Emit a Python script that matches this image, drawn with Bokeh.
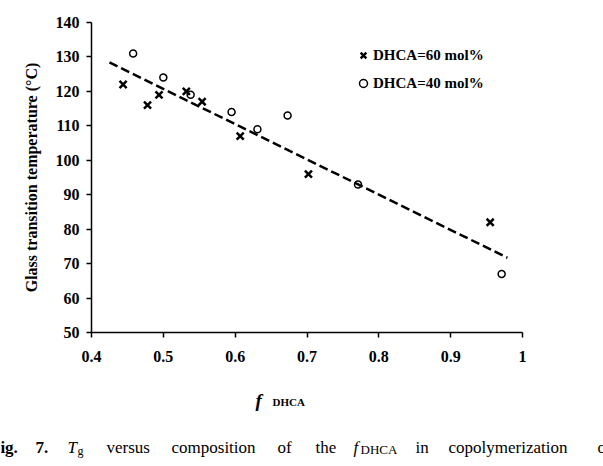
from bokeh.plotting import figure
from bokeh.layouts import column
from bokeh.models import Legend, LegendItem, FixedTicker, ColumnDataSource, Range1d
from bokeh.core.properties import value
from bokeh.embed import file_html
from bokeh.resources import INLINE

# ---- data ----
x60 = [0.444, 0.478, 0.494, 0.532, 0.554, 0.607, 0.702, 0.955]
tg60 = [122, 116, 119, 120, 117, 107, 96, 82]
x40 = [0.458, 0.500, 0.538, 0.595, 0.631, 0.673, 0.771, 0.971]
tg40 = [131, 124, 119, 114, 109, 113, 93, 67]
trend_x = [0.425, 0.979]
trend_y = [128.4, 71.7]
x_ticks = [0.4, 0.5, 0.6, 0.7, 0.8, 0.9, 1.0]
y_ticks = [50, 60, 70, 80, 90, 100, 110, 120, 130, 140]
series_labels = ["DHCA=60 mol%", "DHCA=40 mol%"]
y_title = "Glass transition temperature (\u00b0C)"

# ---- layout ----
W = 603
H_MAIN, H_CAP = 380, 86
L, R, T, B = 91, 81, 22, 48
X0, X1, Y0, Y1 = 0.4, 1.0, 50, 140
FONT = "Liberation Serif"

p = figure(width=W, height=H_MAIN, x_range=(X0, X1), y_range=(Y0, Y1),
           output_backend="svg", toolbar_location=None, title=None,
           min_border_left=L, min_border_right=R, min_border_top=T,
           min_border_bottom=B)
p.frame_align = False
p.xgrid.visible = False
p.ygrid.visible = False
p.outline_line_color = None
p.background_fill_color = "white"
p.border_fill_color = "white"

p.xaxis.ticker = FixedTicker(ticks=x_ticks)
p.yaxis.ticker = FixedTicker(ticks=y_ticks)
p.xaxis.major_label_overrides = {1: "1"}
for ax in (p.xaxis[0], p.yaxis[0]):
    ax.axis_line_color = "black"
    ax.axis_line_width = 1.5
    ax.major_tick_line_color = "black"
    ax.major_tick_line_width = 1.5
    ax.major_tick_out = 5
    ax.major_tick_in = 0
    ax.minor_tick_out = 0
    ax.minor_tick_in = 0
    ax.major_label_text_font = FONT
    ax.major_label_text_font_style = "bold"
    ax.major_label_text_font_size = "16px"
    ax.major_label_text_color = "black"
p.xaxis.major_label_standoff = 13
p.yaxis.major_label_standoff = 7
p.yaxis.axis_label = y_title
p.yaxis.axis_label_text_font = FONT
p.yaxis.axis_label_text_font_style = "bold"
p.yaxis.axis_label_text_font_size = "16px"
p.yaxis.axis_label_text_color = "black"
p.yaxis.axis_label_standoff = 13

src60 = ColumnDataSource(dict(x=x60, y=tg60))
src40 = ColumnDataSource(dict(x=x40, y=tg40))

p.line(trend_x, trend_y, line_color="black", line_width=2.5, line_dash="9 4")
r60 = p.scatter("x", "y", source=src60, marker="x", size=10,
                line_color="black", line_width=2.5)
r40 = p.scatter("x", "y", source=src40, marker="circle", size=7,
                line_color="black", line_width=1.5, fill_color=None)

legend = Legend(items=[LegendItem(label=series_labels[0], renderers=[r60]),
                       LegendItem(label=series_labels[1], renderers=[r40])],
                location=(262, 239), orientation="vertical",
                glyph_width=20, glyph_height=20, label_height=20,
                label_standoff=0, spacing=8, padding=0, margin=0,
                border_line_color=None, background_fill_alpha=0,
                label_text_font=FONT, label_text_font_style="bold",
                label_text_font_size="15px", label_text_color="black")
p.add_layout(legend)

# ---- lower strip: x-axis title and the (cropped) caption ----
c = figure(width=W, height=H_CAP, x_range=Range1d(0, W), y_range=Range1d(H_CAP, 0),
           output_backend="svg", toolbar_location=None, title=None,
           min_border=0, x_axis_type=None, y_axis_type=None)
c.frame_align = False
c.xgrid.visible = False
c.ygrid.visible = False
c.outline_line_color = None
c.background_fill_color = "white"
c.border_fill_color = "white"

OFF = H_MAIN  # caption strip starts at this page row
words = [("f", 255, 400, "bold italic", "19px"),
         ("DHCA", 272, 401, "bold", "11px"),
         ("Fig.", -10.5, 447, "bold", "17px"),
         ("7.", 35, 447, "bold", "17px"),
         ("T", 67, 447, "italic", "17px"),
         ("g", 77, 450, "normal", "12px"),
         ("versus", 106, 447, "normal", "17px"),
         ("composition", 171, 447, "normal", "17px"),
         ("of", 277, 447, "normal", "17px"),
         ("the", 315, 447, "normal", "17px"),
         ("f", 353, 447, "italic", "17px"),
         ("DHCA", 360, 449, "normal", "13px"),
         ("in", 415, 447, "normal", "17px"),
         ("copolymerization", 448, 447, "normal", "17px"),
         ("of", 597, 447, "normal", "17px")]
for txt, px, py, style, size in words:
    c.text(x=[px], y=[py - OFF], text=[txt], text_align="left",
           text_baseline="alphabetic", text_font=value(FONT),
           text_font_style=style, text_font_size=size, text_color="black")

layout = column(p, c, spacing=0)
open("out.html", "w").write(file_html(layout, INLINE))
